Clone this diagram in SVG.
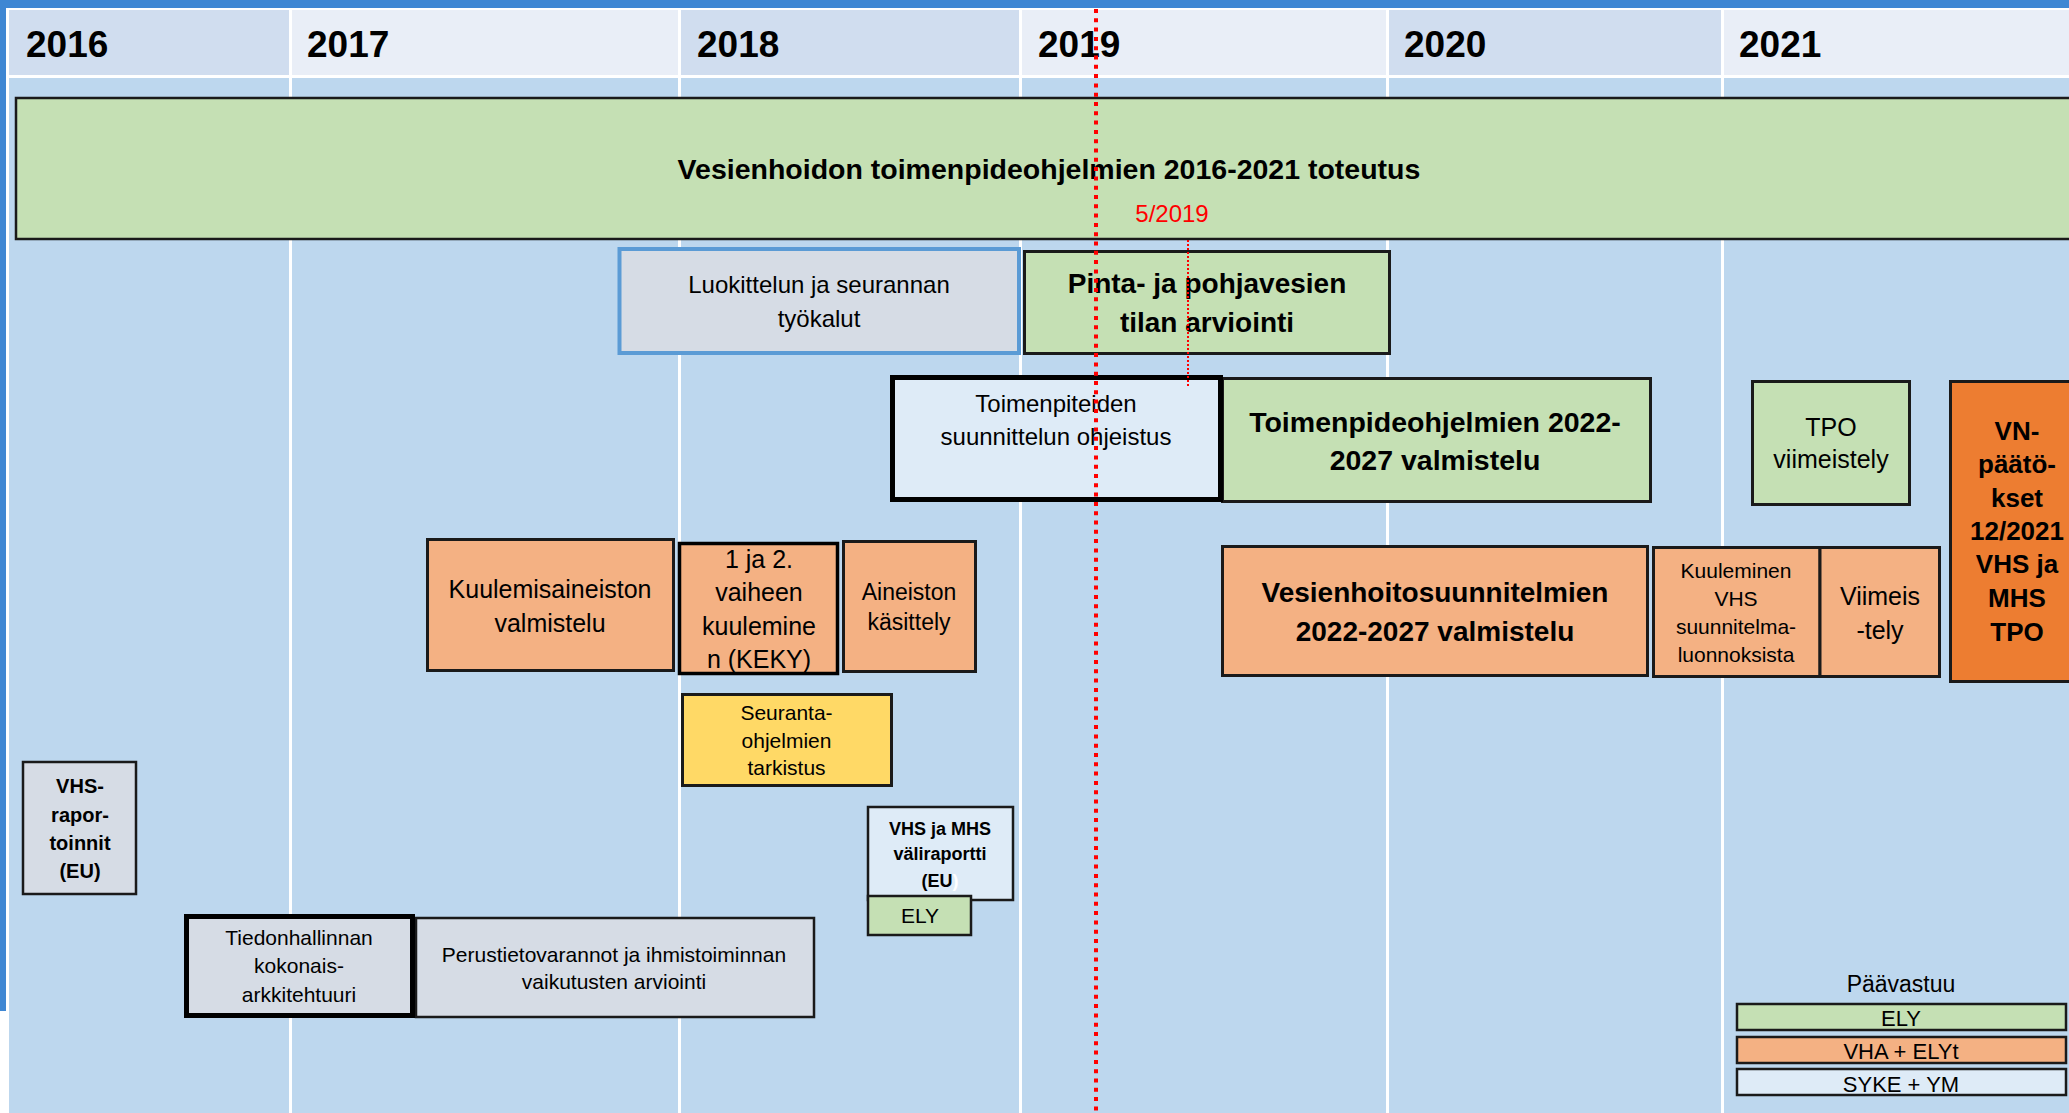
<svg xmlns="http://www.w3.org/2000/svg" width="2069" height="1113" viewBox="0 0 2069 1113">
<style>
  text { font-family: 'Liberation Sans', Arial, sans-serif; fill: #000; text-anchor: middle; }
  .hdr { font-size: 37px; font-weight: bold; text-anchor: start; }
  .b { font-weight: bold; }
  .box { stroke: #1a1a1a; stroke-width: 2.5; }
  .thick { stroke: #000; stroke-width: 5; }
  .green { fill: #C5E0B4; }
  .orange { fill: #F4B183; }
  .dorange { fill: #ED7D31; }
  .gray { fill: #D6DCE5; }
  .lblue { fill: #DEEBF7; }
  .yellow { fill: #FFD966; }
  .hA { fill: #D0DDEF; }
  .hB { fill: #E9EEF7; }
  .body { fill: #BDD7EE; }
</style>

<g id="background">
  <rect x="0" y="0" width="2069" height="1113" fill="#FFFFFF"/>
  <rect x="0" y="0" width="2069" height="8" fill="#3F87D3"/>
  <rect x="0" y="0" width="6" height="1011" fill="#3F87D3"/>
  <rect x="9" y="78" width="2060" height="1035" class="body"/>
  <rect x="9" y="10" width="280" height="65" class="hA"/>
  <rect x="292" y="10" width="386" height="65" class="hB"/>
  <rect x="681" y="10" width="338" height="65" class="hA"/>
  <rect x="1022" y="10" width="364" height="65" class="hB"/>
  <rect x="1389" y="10" width="332" height="65" class="hA"/>
  <rect x="1724" y="10" width="345" height="65" class="hB"/>
  <g stroke="#FFFFFF" stroke-width="3">
    <line x1="290.5" y1="8" x2="290.5" y2="1113"/>
    <line x1="679.5" y1="8" x2="679.5" y2="1113"/>
    <line x1="1020.5" y1="8" x2="1020.5" y2="1113"/>
    <line x1="1387.5" y1="8" x2="1387.5" y2="1113"/>
    <line x1="1722.5" y1="8" x2="1722.5" y2="1113"/>
  </g>
  <text class="hdr" x="26" y="57">2016</text>
  <text class="hdr" x="307" y="57">2017</text>
  <text class="hdr" x="697" y="57">2018</text>
  <text class="hdr" x="1038" y="57">2019</text>
  <text class="hdr" x="1404" y="57">2020</text>
  <text class="hdr" x="1739" y="57">2021</text>
</g>

<g id="toteutus">
  <rect x="16" y="98" width="2100" height="141" class="box green"/>
  <text class="b" x="1049" y="179" font-size="28.5">Vesienhoidon toimenpideohjelmien 2016-2021 toteutus</text>
  <text x="1172" y="222" font-size="24" style="fill:#FF0000">5/2019</text>
</g>

<g id="luokittelu">
  <rect x="619.5" y="249" width="399.5" height="104" class="gray" stroke="#5B9BD5" stroke-width="4"/>
  <text x="819" y="293" font-size="24">Luokittelun ja seurannan</text>
  <text x="819" y="327" font-size="24">työkalut</text>
</g>

<g id="pinta">
  <rect x="1024.5" y="251.5" width="365" height="102" class="green" stroke="#1a1a1a" stroke-width="3"/>
  <text class="b" x="1207" y="293" font-size="28">Pinta- ja pohjavesien</text>
  <text class="b" x="1207" y="332" font-size="28">tilan arviointi</text>
</g>

<g id="tpo-valmistelu">
  <rect x="1222.5" y="378.5" width="428" height="123" class="green" stroke="#1a1a1a" stroke-width="3"/>
  <text class="b" x="1435" y="432" font-size="28.5">Toimenpideohjelmien 2022-</text>
  <text class="b" x="1435" y="470" font-size="28.5">2027 valmistelu</text>
</g>

<g id="ohjeistus">
  <rect x="892.5" y="377.5" width="328" height="122" class="lblue thick"/>
  <text x="1056" y="412" font-size="24">Toimenpiteiden</text>
  <text x="1056" y="445" font-size="24">suunnittelun ohjeistus</text>
</g>

<g id="tpo-viimeistely">
  <rect x="1752.5" y="381.5" width="157" height="123" class="green" stroke="#1a1a1a" stroke-width="3"/>
  <text x="1831" y="436" font-size="25">TPO</text>
  <text x="1831" y="468" font-size="25">viimeistely</text>
</g>

<g id="vn-paatokset">
  <rect x="1950.5" y="381.5" width="130" height="300" class="dorange" stroke="#1a1a1a" stroke-width="3"/>
  <text class="b" x="2017" y="440" font-size="26">VN-</text>
  <text class="b" x="2017" y="473" font-size="26">päätö-</text>
  <text class="b" x="2017" y="507" font-size="26">kset</text>
  <text class="b" x="2017" y="540" font-size="26">12/2021</text>
  <text class="b" x="2017" y="573" font-size="26">VHS ja</text>
  <text class="b" x="2017" y="607" font-size="26">MHS</text>
  <text class="b" x="2017" y="641" font-size="26">TPO</text>
</g>

<g id="vhs-valmistelu">
  <rect x="1222.5" y="546.5" width="425" height="129" class="orange" stroke="#1a1a1a" stroke-width="3"/>
  <text class="b" x="1435" y="602" font-size="28">Vesienhoitosuunnitelmien</text>
  <text class="b" x="1435" y="641" font-size="28">2022-2027 valmistelu</text>
</g>

<g id="kuuleminen-vhs">
  <rect x="1653.5" y="547.5" width="166.5" height="129" class="orange" stroke="#1a1a1a" stroke-width="3"/>
  <text x="1736" y="578" font-size="21">Kuuleminen</text>
  <text x="1736" y="606" font-size="21">VHS</text>
  <text x="1736" y="634" font-size="21">suunnitelma-</text>
  <text x="1736" y="662" font-size="21">luonnoksista</text>
</g>

<g id="viimeistely">
  <rect x="1820" y="547.5" width="119.5" height="129" class="orange" stroke="#1a1a1a" stroke-width="3"/>
  <text x="1880" y="605" font-size="25">Viimeis</text>
  <text x="1880" y="639" font-size="25">-tely</text>
</g>

<g id="kuulemisaineisto">
  <rect x="427.5" y="539.5" width="246" height="131" class="orange" stroke="#1a1a1a" stroke-width="3"/>
  <text x="550" y="598" font-size="25">Kuulemisaineiston</text>
  <text x="550" y="632" font-size="25">valmistelu</text>
</g>

<g id="keky">
  <rect x="679.5" y="543.5" width="158" height="130" class="orange" stroke="#000" stroke-width="3.5"/>
  <text x="759" y="568" font-size="25">1 ja 2.</text>
  <text x="759" y="601" font-size="25">vaiheen</text>
  <text x="759" y="635" font-size="25">kuulemine</text>
  <text x="759" y="668" font-size="25">n (KEKY)</text>
</g>

<g id="aineiston-kasittely">
  <rect x="843.5" y="541.5" width="132" height="130" class="orange" stroke="#1a1a1a" stroke-width="3"/>
  <text x="909" y="600" font-size="23">Aineiston</text>
  <text x="909" y="630" font-size="23">käsittely</text>
</g>

<g id="seurantaohjelmat">
  <rect x="682.5" y="694.5" width="209" height="91" class="yellow" stroke="#1a1a1a" stroke-width="3"/>
  <text x="786.5" y="720" font-size="21">Seuranta-</text>
  <text x="786.5" y="748" font-size="21">ohjelmien</text>
  <text x="786.5" y="775" font-size="21">tarkistus</text>
</g>

<g id="valiraportti">
  <rect x="868" y="807" width="145" height="93" class="lblue box"/>
  <text class="b" x="940" y="835" font-size="18">VHS ja MHS</text>
  <text class="b" x="940" y="860" font-size="18">väliraportti</text>
  <text class="b" x="940" y="887" font-size="18">(EU<tspan style="fill:#FFFFFF">)</tspan></text>
</g>

<g id="valiraportti-ely">
  <rect x="868" y="896" width="103" height="39" class="green box"/>
  <text x="920" y="923" font-size="21">ELY</text>
</g>

<g id="vhs-raportoinnit">
  <rect x="23" y="762" width="113" height="132" class="gray box"/>
  <text class="b" x="80" y="793" font-size="20">VHS-</text>
  <text class="b" x="80" y="822" font-size="20">rapor-</text>
  <text class="b" x="80" y="850" font-size="20">toinnit</text>
  <text class="b" x="80" y="878" font-size="20">(EU)</text>
</g>

<g id="perustietovarannot">
  <rect x="416" y="918" width="398" height="99" class="gray box"/>
  <text x="614" y="962" font-size="21">Perustietovarannot ja ihmistoiminnan</text>
  <text x="614" y="989" font-size="21">vaikutusten arviointi</text>
</g>

<g id="tiedonhallinta">
  <rect x="186.5" y="916.5" width="226" height="99" class="gray thick"/>
  <text x="299" y="945" font-size="21">Tiedonhallinnan</text>
  <text x="299" y="973" font-size="21">kokonais-</text>
  <text x="299" y="1002" font-size="21">arkkitehtuuri</text>
</g>

<g id="legend">
  <text x="1901" y="992" font-size="23">Päävastuu</text>
  <rect x="1737" y="1004" width="329" height="26" class="green box"/>
  <text x="1901" y="1026" font-size="22">ELY</text>
  <rect x="1737" y="1037" width="329" height="26" class="orange box"/>
  <text x="1901" y="1059" font-size="22">VHA + ELYt</text>
  <rect x="1737" y="1069" width="329" height="26" class="lblue box"/>
  <text x="1901" y="1092" font-size="22">SYKE + YM</text>
</g>

<g id="connectors">
  <line x1="1096" y1="9" x2="1096" y2="1113" stroke="#FF0000" stroke-width="4" stroke-dasharray="4 5.3"/>
  <line x1="1188" y1="240" x2="1188" y2="386" stroke="#FF0000" stroke-width="2" stroke-dasharray="2 2"/>
</g>
</svg>
